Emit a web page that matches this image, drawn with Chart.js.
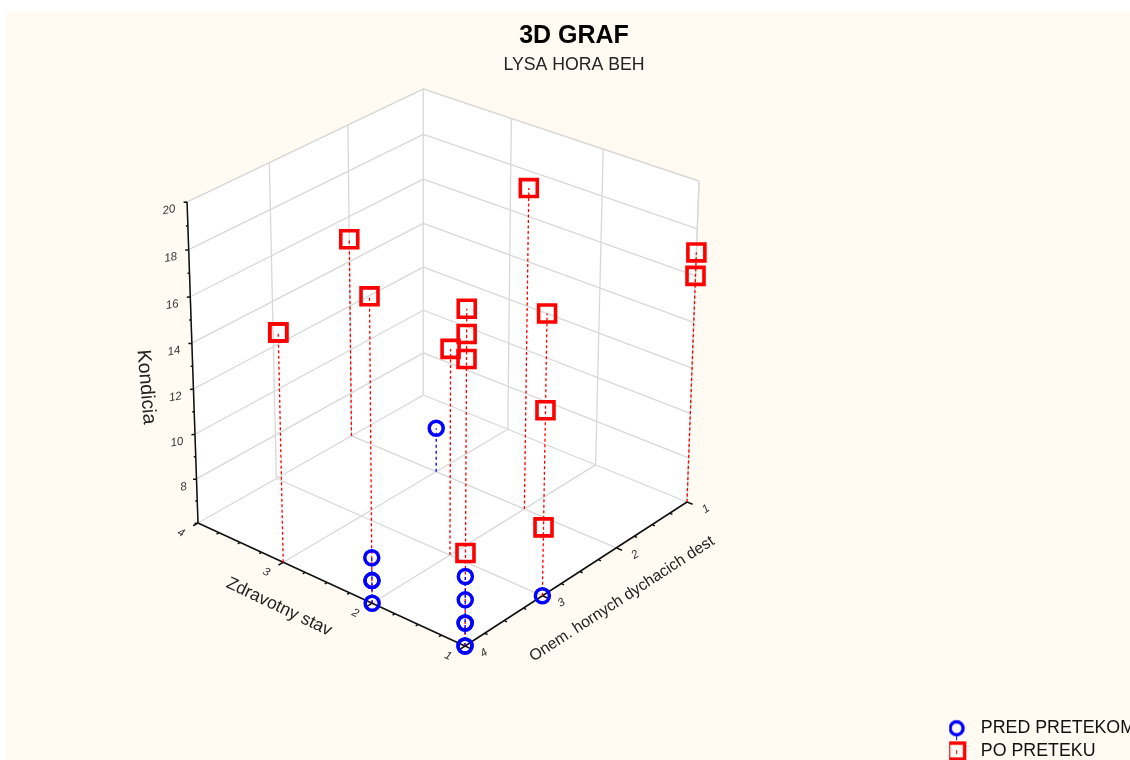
<!DOCTYPE html>
<html><head><meta charset="utf-8">
<script src="https://cdn.jsdelivr.net/npm/chart.js@4"></script>
<style>
html,body{margin:0;padding:0;background:#fff;overflow:hidden;width:1130px;height:760px}
#bg{position:absolute;left:6px;top:12px;right:0;bottom:0;background:#FFFBF2}
canvas{position:absolute;left:0;top:0}
</style></head><body>
<div id="bg"></div>
<canvas id="c" width="1150" height="765"></canvas>
<script>
// ---- data ----
const zdravotnyPred=[1,1,1,1,1,1,2,2,2,2,1,3];
const onemPred     =[4,4,4,4,4,4,4,4,4,4,3,2];
const kondiciaPred =[6,6,7,7,8,9,6,7,7,8,6,8];
const zdravotnyPo=[3,3,4,2,2,1,1,1,1,1,2,1,1,1,1];
const onemPo     =[4,4,2,4,2,1,1,4,4,4,3,3,3,3,4];
const kondiciaPo =[16,16,15,19,20,17,16,20,19,18,15,18,14,9,10];
const zdravotnyTicks=[1,2,3,4];
const onemTicks=[4,3,2,1];
const kondiciaTicks=[8,10,12,14,16,18,20];
const seriesNames=['PRED PRETEKOM','PO PRETEKU'];
const titleText='3D GRAF', subtitleText='LYSA HORA BEH';
const axisNames=['Zdravotny stav','Onem. hornych dychacich dest','Kondicia'];

// ---- perspective of the box: floor corners and vertical vanishing point ----
const R=[687,502],B=[423.5,395],L=[198,523],F=[465,646],VP=[430,7336],backTopY=89;
const Zmin=6,Zmax=20;
const dx1=B[0]-L[0],dx2=F[0]-L[0],sx=R[0]-B[0]+L[0]-F[0];
const dy1=B[1]-L[1],dy2=F[1]-L[1],sy=R[1]-B[1]+L[1]-F[1];
const det=dx1*dy2-dx2*dy1;
const g=(sx*dy2-dx2*sy)/det,h=(dx1*sy-sx*dy1)/det;
const a=B[0]-R[0]+g*B[0],b=F[0]-R[0]+h*F[0],c=R[0];
const d=B[1]-R[1]+g*B[1],e=F[1]-R[1]+h*F[1],f=R[1];
const lam=(g+1)*(backTopY-B[1])/(VP[1]-backTopY);
function proj(zd,on,k){
  const u=(zd-1)/3,v=(on-1)/3,w=(k-Zmin)/(Zmax-Zmin);
  const W=g*u+h*v+1+w*lam;
  return {x:(a*u+b*v+c+w*lam*VP[0])/W,y:(d*u+e*v+f+w*lam*VP[1])/W};
}
function segs(list){const o=[];list.forEach(s=>{o.push(s[0],s[1],{x:null,y:null});});return o;}

// ---- structural lines ----
const gridSegs=[];
[2,3,4].forEach(z=>gridSegs.push([proj(z,1,6),proj(z,4,6)]));
[1,2,3].forEach(z=>gridSegs.push([proj(z,1,6),proj(z,1,20)]));
[1,2,3].forEach(o=>gridSegs.push([proj(1,o,6),proj(4,o,6)]));
[1,2,3,4].forEach(o=>gridSegs.push([proj(4,o,6),proj(4,o,20)]));
for(let k=8;k<=20;k+=2){gridSegs.push([proj(4,4,k),proj(4,1,k)]);gridSegs.push([proj(4,1,k),proj(1,1,k)]);}
const axisSegs=[[proj(4,4,20),proj(4,4,6)],[proj(4,4,6),proj(1,4,6)],[proj(1,4,6),proj(1,1,6)]];
for(let k=6;k<=20;k++){const p=proj(4,4,k),n=k%2?2:3.5;axisSegs.push([p,{x:p.x-n,y:p.y+(k%2?0:.4)}]);}
for(let i=0;i<=12;i++){const t=1+i/4,m=i%4===0;
  axisSegs.push([proj(t,4,6),proj(t,4+(m?.06:.03),6)]);
  axisSegs.push([proj(1,t,6),proj(1-(m?.06:.03),t,6)]);
}
const shell=[proj(4,4,20),proj(4,1,20),proj(1,1,20),proj(1,1,6),proj(1,4,6),proj(4,4,6),proj(4,4,20)];

const predPts=zdravotnyPred.map((z,i)=>proj(z,onemPred[i],kondiciaPred[i]));
const poPts=zdravotnyPo.map((z,i)=>proj(z,onemPo[i],kondiciaPo[i]));
// drop lines run up from the floor, so coinciding ones share their dash phase
const predDrops=zdravotnyPred.map((z,i)=>[proj(z,onemPred[i],6),proj(z,onemPred[i],kondiciaPred[i])]);
const poDrops=zdravotnyPo.map((z,i)=>[proj(z,onemPo[i],6),proj(z,onemPo[i],kondiciaPo[i])]);

const lineDs=(label,data,o)=>Object.assign({label,data,showLine:true,pointRadius:0,pointHoverRadius:0,clip:false,spanGaps:false},o);

// legend marker: offset to the left of its cell, with the short stem
function legendMarker(kind){
  const cv=document.createElement('canvas');cv.width=40;cv.height=30;
  const x=cv.getContext('2d'),cx=20-6.5,cy=15;
  x.lineWidth=3.4;
  if(kind==='circle'){x.strokeStyle='#0000FF';x.beginPath();x.arc(cx,cy,6.5,0,Math.PI*2);x.stroke();
    x.lineWidth=1;x.beginPath();x.moveTo(cx,cy+8);x.lineTo(cx,cy+12);x.stroke();}
  else{x.strokeStyle='#FF0000';x.strokeRect(cx-8,cy-8,16,16);
    x.lineWidth=1;x.beginPath();x.moveTo(cx,cy-1);x.lineTo(cx,cy+3);x.stroke();}
  return cv;
}
const legendPics=[legendMarker('circle'),legendMarker('rect')];

// pixel-scale axes: one data unit is one canvas pixel; titles nudged to their centre
const pixelScales={id:'pixelScales',afterLayout(ch){
  const sx=ch.scales.x,sy=ch.scales.y;
  sx.min=sx.left;sx.max=sx.right;sx.configure();
  sy.min=sy.top;sy.max=sy.bottom;sy.configure();
  ch.boxes.forEach(bx=>{if(bx.position==='top'){bx.left+=1.5;bx.right+=1.5;}});
}};
function txt(ctx,s,x,y,rot,font,color){
  ctx.save();ctx.translate(x,y);ctx.rotate(rot*Math.PI/180);ctx.font=font;ctx.fillStyle=color;
  ctx.textAlign='center';ctx.textBaseline='middle';ctx.fillText(s,0,0);ctx.restore();
}
const axisText={id:'axisText',afterDatasetsDraw(ch){
  const ctx=ch.ctx,tf='italic 11.5px "Liberation Sans"',tc='#333';
  kondiciaTicks.forEach(k=>{const p=proj(4,4,k);txt(ctx,String(k),p.x-(k<10?13:18),p.y+8,-10,tf,tc);});
  zdravotnyTicks.forEach(z=>{const p=proj(z,4,6);txt(ctx,String(z),p.x-17,p.y+10,25,tf,tc);});
  onemTicks.forEach(o=>{const p=proj(1,o,6);txt(ctx,String(o),p.x+19,p.y+7,-33,tf,tc);});
  const lf='17.5px "Liberation Sans"',lc='#222';
  txt(ctx,axisNames[0],279,607,25.5,lf,lc);
  txt(ctx,axisNames[1],622,599,-33,'15.8px "Liberation Sans"',lc);
  txt(ctx,axisNames[2],146,387,85,'19.5px "Liberation Sans"',lc);
}};

new Chart(document.getElementById('c'),{
  type:'scatter',
  plugins:[pixelScales,axisText],
  data:{datasets:[
    {label:seriesNames[0],data:predPts,pointStyle:'circle',pointRadius:7,pointBorderWidth:3.5,pointBorderColor:'#0000FF',pointBackgroundColor:'rgba(0,0,0,0)',borderColor:'#0000FF',backgroundColor:'rgba(0,0,0,0)',clip:false,order:1},
    {label:seriesNames[1],data:poPts,pointStyle:'rect',pointRadius:12,pointBorderWidth:3.6,pointBorderColor:'#FF0000',pointBackgroundColor:'rgba(0,0,0,0)',borderColor:'#FF0000',backgroundColor:'rgba(0,0,0,0)',clip:false,order:2},
    lineDs('_predDrops',segs(predDrops),{borderColor:'#0000FF',borderWidth:1.3,borderDash:[3,3],order:5}),
    lineDs('_poDrops',segs(poDrops),{borderColor:'#FF0000',borderWidth:1.3,borderDash:[3,2.5],order:6}),
    lineDs('_axes',segs(axisSegs),{borderColor:'#111',borderWidth:1.5,order:7}),
    lineDs('_grid',segs(gridSegs),{borderColor:'#D8D8D8',borderWidth:1.3,order:8}),
    lineDs('_shell',shell,{borderColor:'#DCDCDC',borderWidth:1.3,backgroundColor:'#FFFFFF',fill:'shape',order:9})
  ]},
  options:{
    responsive:false,animation:false,events:[],
    layout:{padding:{right:5,top:0,bottom:0,left:0}},
    scales:{
      x:{type:'linear',display:false},
      y:{type:'linear',display:false,reverse:true}
    },
    plugins:{
      tooltip:{enabled:false},
      title:{display:true,text:titleText,color:'#000',font:{family:'"Liberation Sans"',size:25,weight:'bold'},padding:{top:21,bottom:3}},
      subtitle:{display:true,text:subtitleText,color:'#222',font:{family:'"Liberation Sans"',size:17.7,weight:'normal'},padding:{top:0,bottom:0}},
      legend:{display:true,position:'right',align:'end',
        labels:{usePointStyle:true,boxWidth:18,boxHeight:18,color:'#111',font:{family:'"Liberation Sans"',size:17.8},padding:5,
          filter:i=>!i.text.startsWith('_'),
          generateLabels(ch){return seriesNames.map((t,i)=>({text:t,pointStyle:legendPics[i],datasetIndex:i,hidden:false,lineWidth:0,fontColor:'#111'}));}
        }}
    }
  }
});
</script>
</body></html>
